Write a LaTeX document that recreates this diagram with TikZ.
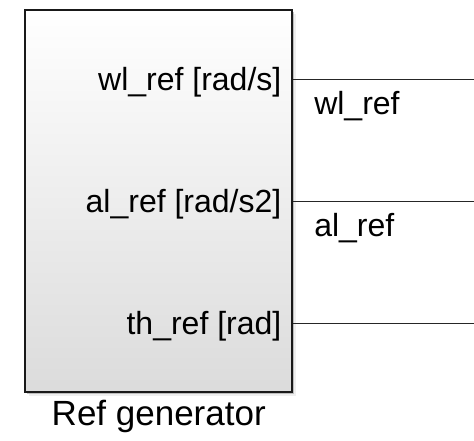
\documentclass[tikz,border=0pt]{standalone}
\usepackage{fontspec}
\setmainfont{Liberation Sans}
\usetikzlibrary{positioning,shadows}
\begin{document}
\begin{tikzpicture}[x=1pt,y=1pt,
    block/.style={draw=black!90,line width=1.6pt,top color=white,bottom color=black!14,
        minimum width=267pt,minimum height=382pt,
        drop shadow={shadow xshift=4pt,shadow yshift=-4pt,fill=black!12},
        drop shadow={shadow xshift=2pt,shadow yshift=-2pt,fill=black!45}},
    sig/.style={line width=0.9pt,black!85},
    lbl/.style={inner sep=0pt,font=\fontsize{32}{37}\selectfont}]
\useasboundingbox (0,0) rectangle (474,441);
\node[block] (gen) at (158.75,240) {};
\node[below=7pt of gen,inner sep=0pt,font=\fontsize{35}{40}\selectfont] (name) {Ref generator};
\foreach \i/\dy/\port in {1/122/{wl\_ref [rad/s]},2/0/{al\_ref [rad/s2]},3/-122/{th\_ref [rad]}}{
    \coordinate (p\i) at ([yshift=\dy pt]gen.east);
    \coordinate (e\i) at (474,{240+\dy});
    \draw[sig] (p\i) -- (e\i);
    \node[lbl,anchor=base east] (lab\i) at ([xshift=-11.5pt,yshift=-12pt]p\i) {\port};
}
\node[lbl,anchor=base west] (s1) at ([xshift=21pt,yshift=-36pt]p1) {wl\_ref};
\node[lbl,anchor=base west] (s2) at ([xshift=21pt,yshift=-36pt]p2) {al\_ref};
\end{tikzpicture}
\end{document}
